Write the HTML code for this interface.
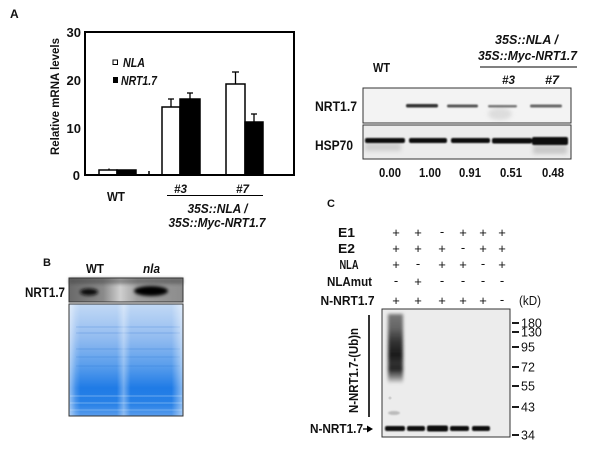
<!DOCTYPE html>
<html><head><meta charset="utf-8"><style>
html,body{margin:0;padding:0;background:#fff;}
svg{display:block;}
text{font-family:"Liberation Sans",Arial,sans-serif;font-weight:bold;fill:#111;}
.i{font-style:italic;}
.n{font-weight:normal;}
</style></head><body>
<svg width="600" height="450" viewBox="0 0 600 450" xmlns="http://www.w3.org/2000/svg">
<defs>
 <filter id="b1" x="-50%" y="-100%" width="200%" height="300%"><feGaussianBlur stdDeviation="0.8"/></filter>
 <filter id="b2" x="-50%" y="-100%" width="200%" height="300%"><feGaussianBlur stdDeviation="2"/></filter>
 <filter id="b3" x="-50%" y="-50%" width="200%" height="200%"><feGaussianBlur stdDeviation="1.5"/></filter>
 <linearGradient id="gel" x1="0" y1="0" x2="0" y2="1">
  <stop offset="0" stop-color="#c2d9f5"/>
  <stop offset="0.3" stop-color="#93bcf0"/>
  <stop offset="0.55" stop-color="#5a9eec"/>
  <stop offset="0.75" stop-color="#1f7be6"/>
  <stop offset="0.9" stop-color="#2a82e7"/>
  <stop offset="1" stop-color="#5a9dec"/>
 </linearGradient>
 <linearGradient id="gelh" x1="0" y1="0" x2="1" y2="0">
  <stop offset="0" stop-color="#fff" stop-opacity="0.55"/>
  <stop offset="0.06" stop-color="#fff" stop-opacity="0.15"/>
  <stop offset="0.1" stop-color="#fff" stop-opacity="0"/>
  <stop offset="0.42" stop-color="#fff" stop-opacity="0"/>
  <stop offset="0.48" stop-color="#fff" stop-opacity="0.35"/>
  <stop offset="0.54" stop-color="#fff" stop-opacity="0"/>
  <stop offset="0.9" stop-color="#fff" stop-opacity="0"/>
  <stop offset="1" stop-color="#fff" stop-opacity="0.5"/>
 </linearGradient>
 <linearGradient id="smear" x1="0" y1="0" x2="0" y2="1">
  <stop offset="0" stop-color="#777"/>
  <stop offset="0.2" stop-color="#666"/>
  <stop offset="0.4" stop-color="#333"/>
  <stop offset="0.6" stop-color="#1a1a1a"/>
  <stop offset="0.72" stop-color="#333"/>
  <stop offset="0.8" stop-color="#222"/>
  <stop offset="0.92" stop-color="#888"/>
  <stop offset="1" stop-color="#ddd"/>
 </linearGradient>
 <linearGradient id="bblot" x1="0" y1="0" x2="1" y2="0">
  <stop offset="0" stop-color="#6a6a6a"/>
  <stop offset="0.3" stop-color="#8a8a8a"/>
  <stop offset="0.45" stop-color="#cfcfcf"/>
  <stop offset="0.6" stop-color="#a0a0a0"/>
  <stop offset="1" stop-color="#8c8c8c"/>
 </linearGradient>
</defs>

<!-- ===== Panel A chart ===== -->
<text x="10" y="18" font-size="12">A</text>
<text x="81" y="37" font-size="13" text-anchor="end">30</text>
<text x="81" y="85" font-size="13" text-anchor="end">20</text>
<text x="81" y="133" font-size="13" text-anchor="end">10</text>
<text x="80" y="180" font-size="13" text-anchor="end">0</text>
<text transform="translate(59,155) rotate(-90)" font-size="11.5" textLength="117" lengthAdjust="spacingAndGlyphs">Relative mRNA levels</text>

<!-- legend -->
<rect x="113" y="60" width="4.5" height="4.5" fill="#fff" stroke="#000" stroke-width="1"/>
<text x="123" y="67" font-size="12.5" class="i" textLength="22" lengthAdjust="spacingAndGlyphs">NLA</text>
<rect x="113" y="77" width="5" height="6" fill="#000"/>
<text x="121" y="85" font-size="12.5" class="i" textLength="36" lengthAdjust="spacingAndGlyphs">NRT1.7</text>

<!-- bars -->
<g stroke="#000" stroke-width="1.5">
 <rect x="99" y="170" width="18" height="5" fill="#fff"/>
 <rect x="117" y="170" width="19" height="5" fill="#000"/>
 <rect x="162" y="107" width="18" height="68" fill="#fff"/>
 <rect x="180" y="99" width="20" height="76" fill="#000"/>
 <rect x="226" y="84" width="19" height="91" fill="#fff"/>
 <rect x="245" y="122" width="18" height="53" fill="#000"/>
</g>
<g stroke="#000" stroke-width="1.3">
 <line x1="171" y1="107" x2="171" y2="99"/><line x1="168" y1="99" x2="174" y2="99"/>
 <line x1="190" y1="99" x2="190" y2="93"/><line x1="187" y1="93" x2="193" y2="93"/>
 <line x1="235.5" y1="84" x2="235.5" y2="72"/><line x1="232" y1="72" x2="239" y2="72"/>
 <line x1="254" y1="122" x2="254" y2="114"/><line x1="251" y1="114" x2="257" y2="114"/>
 <line x1="109" y1="170" x2="109" y2="168.5"/>
</g>
<rect x="85" y="32" width="209" height="143" fill="none" stroke="#000" stroke-width="2"/>
<line x1="149" y1="175" x2="149" y2="171" stroke="#000" stroke-width="1.5"/>

<text x="116" y="201" font-size="12.5" text-anchor="middle" textLength="18" lengthAdjust="spacingAndGlyphs">WT</text>
<text x="180.5" y="193" font-size="11.5" class="i" text-anchor="middle" textLength="13" lengthAdjust="spacingAndGlyphs">#3</text>
<text x="242.5" y="193" font-size="11.5" class="i" text-anchor="middle" textLength="13" lengthAdjust="spacingAndGlyphs">#7</text>
<line x1="167" y1="195.5" x2="263" y2="195.5" stroke="#000" stroke-width="1"/>
<text x="217.5" y="213" font-size="13" class="i" text-anchor="middle" textLength="60" lengthAdjust="spacingAndGlyphs">35S::NLA /</text>
<text x="217" y="227" font-size="13" class="i" text-anchor="middle" textLength="97" lengthAdjust="spacingAndGlyphs">35S::Myc-NRT1.7</text>

<!-- ===== Panel A blot ===== -->
<text x="381.5" y="72" font-size="12.5" text-anchor="middle" textLength="17" lengthAdjust="spacingAndGlyphs">WT</text>
<text x="526.5" y="44" font-size="13" class="i" text-anchor="middle" textLength="63" lengthAdjust="spacingAndGlyphs">35S::NLA /</text>
<text x="527.5" y="60" font-size="13" class="i" text-anchor="middle" textLength="99" lengthAdjust="spacingAndGlyphs">35S::Myc-NRT1.7</text>
<line x1="480" y1="67" x2="577" y2="67" stroke="#000" stroke-width="1"/>
<text x="508.5" y="84" font-size="11.5" class="i" text-anchor="middle" textLength="13" lengthAdjust="spacingAndGlyphs">#3</text>
<text x="552" y="84" font-size="11.5" class="i" text-anchor="middle" textLength="14" lengthAdjust="spacingAndGlyphs">#7</text>

<text x="315" y="111" font-size="13.5" textLength="42" lengthAdjust="spacingAndGlyphs">NRT1.7</text>
<text x="315" y="150" font-size="13.5" textLength="38" lengthAdjust="spacingAndGlyphs">HSP70</text>

<rect x="363" y="88" width="208" height="35" fill="#f3f3f3"/>
<ellipse cx="500" cy="114" rx="12" ry="6" fill="#ddd" filter="url(#b2)"/>
<g fill="#333" filter="url(#b1)">
 <rect x="406" y="104" width="32" height="3.5" rx="1.5"/>
 <rect x="447" y="104.5" width="31" height="3" rx="1.5" fill="#555"/>
 <rect x="488" y="105" width="29" height="2.5" rx="1.2" fill="#777"/>
 <rect x="530" y="104.5" width="32" height="3" rx="1.5" fill="#666"/>
</g>
<rect x="363" y="88" width="208" height="35" fill="none" stroke="#333" stroke-width="1"/>

<rect x="363" y="125" width="208" height="34" fill="#ececec"/>
<rect x="365" y="143" width="36" height="8" fill="#cfcfcf" filter="url(#b2)"/>
<rect x="533" y="145" width="34" height="9" fill="#c8c8c8" filter="url(#b2)"/>
<g fill="#111" filter="url(#b1)">
 <rect x="365" y="138" width="40" height="5" rx="2"/>
 <rect x="409" y="138" width="38" height="5" rx="2"/>
 <rect x="451" y="138" width="39" height="5" rx="2"/>
 <rect x="492" y="138" width="40" height="5.5" rx="2"/>
 <rect x="532" y="137" width="36" height="8" rx="2"/>
</g>
<rect x="363" y="125" width="208" height="34" fill="none" stroke="#333" stroke-width="1"/>

<text x="390" y="177" font-size="12.5" text-anchor="middle" textLength="22" lengthAdjust="spacingAndGlyphs">0.00</text>
<text x="430" y="177" font-size="12.5" text-anchor="middle" textLength="22" lengthAdjust="spacingAndGlyphs">1.00</text>
<text x="470" y="177" font-size="12.5" text-anchor="middle" textLength="22" lengthAdjust="spacingAndGlyphs">0.91</text>
<text x="511" y="177" font-size="12.5" text-anchor="middle" textLength="22" lengthAdjust="spacingAndGlyphs">0.51</text>
<text x="553" y="177" font-size="12.5" text-anchor="middle" textLength="22" lengthAdjust="spacingAndGlyphs">0.48</text>

<!-- ===== Panel B ===== -->
<text x="43" y="266" font-size="11">B</text>
<text x="95" y="273" font-size="13" text-anchor="middle" textLength="18" lengthAdjust="spacingAndGlyphs">WT</text>
<text x="151.5" y="273" font-size="13" class="i" text-anchor="middle" textLength="17" lengthAdjust="spacingAndGlyphs">nla</text>
<text x="25" y="297" font-size="13.5" textLength="40" lengthAdjust="spacingAndGlyphs">NRT1.7</text>

<rect x="69" y="278" width="114" height="24" fill="url(#bblot)"/>
<rect x="69" y="278" width="114" height="6" fill="#444" opacity="0.5" filter="url(#b3)"/>
<ellipse cx="89" cy="292" rx="9" ry="3.5" fill="#111" filter="url(#b3)"/>
<ellipse cx="151" cy="291" rx="17" ry="5" fill="#000" filter="url(#b3)"/>
<rect x="69" y="278" width="114" height="24" fill="none" stroke="#333" stroke-width="1"/>

<rect x="69" y="304" width="114" height="112" fill="url(#gel)"/>
<g stroke="#1565c8" stroke-opacity="0.15" stroke-width="1.5">
 <line x1="76" y1="327" x2="180" y2="327"/>
 <line x1="76" y1="333" x2="180" y2="333"/>
 <line x1="76" y1="349" x2="180" y2="349"/>
 <line x1="76" y1="357" x2="180" y2="357"/>
 <line x1="76" y1="366" x2="180" y2="366"/>
</g>
<g stroke="#8fc0f5" stroke-opacity="0.45" stroke-width="1.5">
 <line x1="70" y1="396" x2="182" y2="396"/>
 <line x1="70" y1="403" x2="182" y2="403"/>
 <line x1="70" y1="410" x2="182" y2="410"/>
</g>
<rect x="69" y="304" width="114" height="112" fill="url(#gelh)"/>
<rect x="69" y="304" width="114" height="112" fill="none" stroke="#333" stroke-width="1"/>

<!-- ===== Panel C ===== -->
<text x="327" y="207" font-size="11">C</text>
<g font-size="12.5" text-anchor="middle">
 <text x="346.5" y="237" textLength="17" lengthAdjust="spacingAndGlyphs">E1</text>
 <text x="346.5" y="253" textLength="17" lengthAdjust="spacingAndGlyphs">E2</text>
 <text x="349" y="269" textLength="19" lengthAdjust="spacingAndGlyphs">NLA</text>
 <text x="349.5" y="286" textLength="45" lengthAdjust="spacingAndGlyphs">NLAmut</text>
 <text x="347.5" y="305" textLength="54" lengthAdjust="spacingAndGlyphs">N-NRT1.7</text>
</g>
<g font-size="13" text-anchor="middle">
 <text x="396" y="237" class="n">+</text><text x="418" y="237" class="n">+</text><text x="442" y="236" class="n">-</text><text x="463" y="237" class="n">+</text><text x="483" y="237" class="n">+</text><text x="502" y="237" class="n">+</text>
 <text x="396" y="253" class="n">+</text><text x="418" y="253" class="n">+</text><text x="442" y="253" class="n">+</text><text x="463" y="252" class="n">-</text><text x="483" y="253" class="n">+</text><text x="502" y="253" class="n">+</text>
 <text x="396" y="269" class="n">+</text><text x="418" y="268" class="n">-</text><text x="442" y="269" class="n">+</text><text x="463" y="269" class="n">+</text><text x="483" y="268" class="n">-</text><text x="502" y="269" class="n">+</text>
 <text x="396" y="285" class="n">-</text><text x="418" y="286" class="n">+</text><text x="442" y="285" class="n">-</text><text x="463" y="285" class="n">-</text><text x="483" y="285" class="n">-</text><text x="502" y="285" class="n">-</text>
 <text x="396" y="305" class="n">+</text><text x="418" y="305" class="n">+</text><text x="442" y="305" class="n">+</text><text x="463" y="305" class="n">+</text><text x="483" y="305" class="n">+</text><text x="502" y="304" class="n">-</text>
</g>
<text x="530" y="305" font-size="12.5" class="n" text-anchor="middle" textLength="22" lengthAdjust="spacingAndGlyphs">(kD)</text>

<rect x="382" y="309" width="128" height="128" fill="#ececec"/>
<rect x="388" y="314" width="15" height="69" fill="url(#smear)" filter="url(#b3)"/>
<ellipse cx="394" cy="413" rx="6" ry="2" fill="#bbb" filter="url(#b1)"/>
<ellipse cx="390" cy="398" rx="1.5" ry="1.5" fill="#ccc"/>
<g fill="#111" filter="url(#b1)">
 <rect x="385" y="426" width="20" height="5" rx="2"/>
 <rect x="407" y="426" width="18" height="5" rx="2"/>
 <rect x="427" y="425.5" width="21" height="6" rx="2"/>
 <rect x="450" y="426" width="19" height="5" rx="2"/>
 <rect x="472" y="426" width="18" height="5" rx="2"/>
</g>
<rect x="382" y="309" width="128" height="128" fill="none" stroke="#333" stroke-width="1"/>

<g stroke="#000" stroke-width="1.8">
 <line x1="512" y1="323" x2="519" y2="323"/>
 <line x1="512" y1="332" x2="519" y2="332"/>
 <line x1="512" y1="347" x2="519" y2="347"/>
 <line x1="512" y1="367" x2="519" y2="367"/>
 <line x1="512" y1="386" x2="519" y2="386"/>
 <line x1="512" y1="407" x2="519" y2="407"/>
 <line x1="512" y1="435" x2="519" y2="435"/>
</g>
<g font-size="12.5">
 <text x="521" y="327.5" class="n">180</text>
 <text x="521" y="336.5" class="n">130</text>
 <text x="521" y="351.5" class="n">95</text>
 <text x="521" y="371.5" class="n">72</text>
 <text x="521" y="390.5" class="n">55</text>
 <text x="521" y="411.5" class="n">43</text>
 <text x="521" y="439.5" class="n">34</text>
</g>

<line x1="369" y1="315" x2="369" y2="417" stroke="#000" stroke-width="1.6"/>
<text transform="translate(358,413) rotate(-90)" font-size="12.5" textLength="85" lengthAdjust="spacingAndGlyphs">N-NRT1.7-(Ub)n</text>
<text x="310" y="433" font-size="12.5" textLength="53" lengthAdjust="spacingAndGlyphs">N-NRT1.7</text>
<line x1="363" y1="429" x2="368" y2="429" stroke="#000" stroke-width="1.3"/>
<polygon points="367,425.5 373,429 367,432.5" fill="#000"/>
</svg>
</body></html>
